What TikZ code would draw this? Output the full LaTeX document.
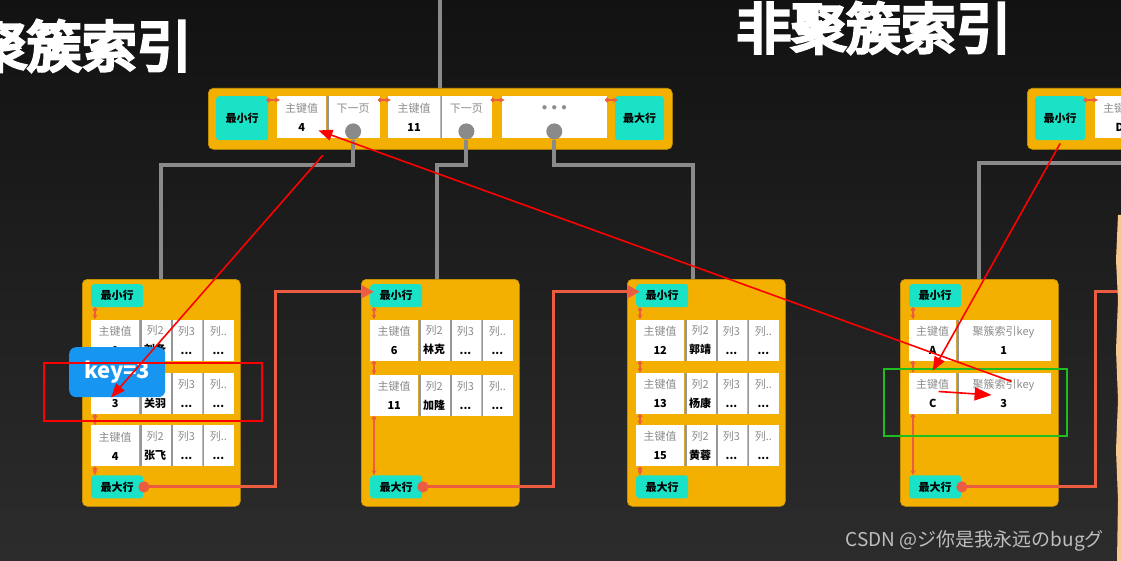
\documentclass[tikz,border=0pt]{standalone}
\usepackage{fontspec}
\setmainfont{Noto Sans CJK SC}
\newfontfamily\titlefont[FakeBold=6]{Noto Sans CJK SC}
\usetikzlibrary{positioning,fit,backgrounds,arrows.meta}

\definecolor{bgtop}{RGB}{18,18,18}
\definecolor{bgbot}{RGB}{44,44,44}
\definecolor{pageorange}{RGB}{244,176,0}
\definecolor{rowteal}{RGB}{26,226,198}
\definecolor{linkred}{RGB}{236,92,64}
\definecolor{treegrey}{RGB}{138,138,138}
\definecolor{hdgrey}{RGB}{140,140,140}
\definecolor{sepgrey}{RGB}{150,150,150}
\definecolor{keyblue}{RGB}{22,150,240}
\definecolor{boxgreen}{RGB}{30,190,30}
\definecolor{markgrey}{RGB}{190,190,190}
\definecolor{skin}{RGB}{245,200,145}

\newcommand{\colhead}[1]{{\color{hdgrey}#1}}

\begin{document}
\begin{tikzpicture}[x=1pt,y=-1pt,
   pagebox/.style={fill=pageorange,draw=pageorange!85!black,line width=0.6pt,rounded corners=5pt,
      minimum width=158pt,minimum height=227pt,inner sep=0pt},
   minrow/.style={fill=rowteal,rounded corners=3pt,minimum width=52pt,minimum height=23pt,inner sep=0pt,
      font=\fontsize{11}{13}\selectfont\bfseries,text=black},
   kcell/.style={fill=white,minimum width=48pt,minimum height=41pt,inner sep=0pt,align=center,
      font=\fontsize{11}{19}\selectfont},
   ccell/.style={kcell,minimum width=31pt,path picture={\draw[sepgrey,line width=4pt]
      (path picture bounding box.north west) -- (path picture bounding box.south west);}},
   linkarrow/.style={draw=linkred,line width=1.3pt,{Circle[length=4.5pt]}-{Stealth[length=5pt,width=5pt]}},
   nextlink/.style={draw=linkred,line width=3pt,{Circle[length=11pt]}-{Triangle[length=12pt,width=12pt]}},
   treeline/.style={draw=treegrey,line width=4pt},
   knob/.style={circle,fill=treegrey,minimum size=16pt,inner sep=0pt},
   notearrow/.style={draw=red,line width=1.6pt,-{Triangle[length=14pt,width=11pt]}},
   redbox/.style={draw=red,line width=1.6pt},
   greenbox/.style={draw=boxgreen,line width=1.6pt},
   keytag/.style={fill=keyblue,rounded corners=7pt,minimum width=96pt,minimum height=50pt,inner sep=0pt,
      text=white,font=\fontsize{22}{22}\selectfont\bfseries},
   titletext/.style={text=white,font=\titlefont\fontsize{55}{60}\selectfont,inner sep=0pt}]

 \useasboundingbox (0,0) rectangle (1121,561);
 \clip (0,0) rectangle (1121,561);
 \fill[top color=bgtop,bottom color=bgbot] (0,0) rectangle (1121,561);

 %titoli
 \node[titletext,anchor=east] (ttl1) at (192,46) {聚簇索引};
 \node[titletext,anchor=west] (ttl2) at (736,28) {非聚簇索引};

 %radice indice cluster
 \node[pagebox,minimum width=464pt,minimum height=61pt,anchor=north west] (root) at (208,88) {};
 \node[minrow,minimum height=44pt,anchor=north west] (rmin) at (216,96) {最小行};
 \node[kcell,minimum width=49pt,minimum height=42pt,anchor=north west] (rk1) at (277,96) {\colhead{主键值}\\\textbf{4}};
 \node[ccell,minimum width=53pt,minimum height=42pt,right=0pt of rk1] (rp1) {\colhead{下一页}\\\phantom{4}};
 \node[kcell,minimum width=52pt,minimum height=42pt,right=8pt of rp1] (rk2) {\colhead{主键值}\\\textbf{11}};
 \node[ccell,minimum width=52pt,minimum height=42pt,right=0pt of rk2] (rp2) {\colhead{下一页}\\\phantom{4}};
 \node[kcell,minimum width=105pt,minimum height=42pt,right=9pt of rp2] (rdots) {\colhead{$\bullet\,\bullet\,\bullet$}\\\phantom{4}};
 \node[minrow,minimum width=49pt,minimum height=44pt,anchor=north west] (rmax) at (615,96) {最大行};
 \node[knob] (c1) at ([yshift=7pt]rp1.south) {};
 \node[knob] (c2) at ([yshift=7pt]rp2.south) {};
 \node[knob] (c3) at ([yshift=7pt]rdots.south) {};

 \draw[linkarrow] ([shift={(-2pt,-4pt)}]rmin.north east) -- ([shift={(3pt,-4pt)}]rk1.north west);
 \draw[linkarrow] ([shift={(-2pt,-4pt)}]rp1.north east) -- ([shift={(3pt,-4pt)}]rk2.north west);
 \draw[linkarrow] ([shift={(-2pt,-4pt)}]rp2.north east) -- ([shift={(3pt,-4pt)}]rdots.north west);
 \draw[linkarrow] ([shift={(-2pt,-4pt)}]rdots.north east) -- ([shift={(3pt,-4pt)}]rmax.north west);

 %radice indice non cluster
 \node[pagebox,minimum width=140pt,minimum height=61pt,anchor=north west] (root2) at (1027,88) {};
 \node[minrow,minimum width=50pt,minimum height=44pt,anchor=north west] (rmin2) at (1035,96) {最小行};
 \node[kcell,minimum width=49pt,minimum height=42pt,anchor=north west] (rk3) at (1095,96) {\colhead{主键值}\\\textbf{D}};
 \draw[linkarrow] ([shift={(-2pt,-4pt)}]rmin2.north east) -- ([shift={(3pt,-4pt)}]rk3.north west);

 %foglia 1
 \node[pagebox,anchor=north west] (leaf1) at (82,279) {};
 \node[minrow,anchor=north west] (l1min) at ([shift={(9pt,-5pt)}]leaf1.north west) {最小行};
 \node[kcell,anchor=north west] (l1r1k) at ([yshift=-12pt]l1min.south west) {\colhead{主键值}\\\textbf{1}};
 \node[ccell,right=0pt of l1r1k] (l1r1a) {\colhead{列2}\\\textbf{刘备}};
 \node[ccell,right=0pt of l1r1a] (l1r1b) {\colhead{列3}\\\textbf{...}};
 \node[ccell,minimum width=32pt,right=0pt of l1r1b] (l1r1c) {\colhead{列..}\\\textbf{...}};
 \node[kcell,below=12pt of l1r1k] (l1r2k) {\colhead{主键值}\\\textbf{3}};
 \node[ccell,right=0pt of l1r2k] (l1r2a) {\colhead{列2}\\\textbf{关羽}};
 \node[ccell,right=0pt of l1r2a] (l1r2b) {\colhead{列3}\\\textbf{...}};
 \node[ccell,minimum width=32pt,right=0pt of l1r2b] (l1r2c) {\colhead{列..}\\\textbf{...}};
 \node[kcell,below=11pt of l1r2k] (l1r3k) {\colhead{主键值}\\\textbf{4}};
 \node[ccell,right=0pt of l1r3k] (l1r3a) {\colhead{列2}\\\textbf{张飞}};
 \node[ccell,right=0pt of l1r3a] (l1r3b) {\colhead{列3}\\\textbf{...}};
 \node[ccell,minimum width=32pt,right=0pt of l1r3b] (l1r3c) {\colhead{列..}\\\textbf{...}};
 \node[minrow,anchor=south west] (l1max) at ([shift={(9pt,8pt)}]leaf1.south west) {最大行};

 %foglia 2
 \node[pagebox,anchor=north west] (leaf2) at (361,279) {};
 \node[minrow,anchor=north west] (l2min) at ([shift={(9pt,-5pt)}]leaf2.north west) {最小行};
 \node[kcell,anchor=north west] (l2r1k) at ([yshift=-12pt]l2min.south west) {\colhead{主键值}\\\textbf{6}};
 \node[ccell,right=0pt of l2r1k] (l2r1a) {\colhead{列2}\\\textbf{林克}};
 \node[ccell,right=0pt of l2r1a] (l2r1b) {\colhead{列3}\\\textbf{...}};
 \node[ccell,minimum width=32pt,right=0pt of l2r1b] (l2r1c) {\colhead{列..}\\\textbf{...}};
 \node[kcell,below=14pt of l2r1k] (l2r2k) {\colhead{主键值}\\\textbf{11}};
 \node[ccell,right=0pt of l2r2k] (l2r2a) {\colhead{列2}\\\textbf{加隆}};
 \node[ccell,right=0pt of l2r2a] (l2r2b) {\colhead{列3}\\\textbf{...}};
 \node[ccell,minimum width=32pt,right=0pt of l2r2b] (l2r2c) {\colhead{列..}\\\textbf{...}};
 \node[minrow,anchor=south west] (l2max) at ([shift={(9pt,8pt)}]leaf2.south west) {最大行};

 %foglia 3
 \node[pagebox,anchor=north west] (leaf3) at (627,279) {};
 \node[minrow,anchor=north west] (l3min) at ([shift={(9pt,-5pt)}]leaf3.north west) {最小行};
 \node[kcell,anchor=north west] (l3r1k) at ([yshift=-12pt]l3min.south west) {\colhead{主键值}\\\textbf{12}};
 \node[ccell,right=0pt of l3r1k] (l3r1a) {\colhead{列2}\\\textbf{郭靖}};
 \node[ccell,right=0pt of l3r1a] (l3r1b) {\colhead{列3}\\\textbf{...}};
 \node[ccell,minimum width=32pt,right=0pt of l3r1b] (l3r1c) {\colhead{列..}\\\textbf{...}};
 \node[kcell,below=12pt of l3r1k] (l3r2k) {\colhead{主键值}\\\textbf{13}};
 \node[ccell,right=0pt of l3r2k] (l3r2a) {\colhead{列2}\\\textbf{杨康}};
 \node[ccell,right=0pt of l3r2a] (l3r2b) {\colhead{列3}\\\textbf{...}};
 \node[ccell,minimum width=32pt,right=0pt of l3r2b] (l3r2c) {\colhead{列..}\\\textbf{...}};
 \node[kcell,below=11pt of l3r2k] (l3r3k) {\colhead{主键值}\\\textbf{15}};
 \node[ccell,right=0pt of l3r3k] (l3r3a) {\colhead{列2}\\\textbf{黄蓉}};
 \node[ccell,right=0pt of l3r3a] (l3r3b) {\colhead{列3}\\\textbf{...}};
 \node[ccell,minimum width=32pt,right=0pt of l3r3b] (l3r3c) {\colhead{列..}\\\textbf{...}};
 \node[minrow,anchor=south west] (l3max) at ([shift={(9pt,8pt)}]leaf3.south west) {最大行};

 %foglia indice non cluster
 \node[pagebox,anchor=north west] (leaf4) at (900,279) {};
 \node[minrow,anchor=north west] (l4min) at ([shift={(9pt,-5pt)}]leaf4.north west) {最小行};
 \node[kcell,minimum width=47pt,anchor=north west] (l4r1k) at ([yshift=-12pt]l4min.south west) {\colhead{主键值}\\\textbf{A}};
 \node[ccell,minimum width=94pt,right=0pt of l4r1k] (l4r1v) {\colhead{聚簇索引key}\\\textbf{1}};
 \node[kcell,minimum width=47pt,below=12pt of l4r1k] (l4r2k) {\colhead{主键值}\\\textbf{C}};
 \node[ccell,minimum width=94pt,right=0pt of l4r2k] (l4r2v) {\colhead{聚簇索引key}\\\textbf{3}};
 \node[minrow,anchor=south west] (l4max) at ([shift={(9pt,8pt)}]leaf4.south west) {最大行};

 %rami dell'albero
 \coordinate (bus) at (0,165);
 \coordinate (bus2) at (1130,163);
 \draw[treeline] (root.north) -- (root.north |- 0,0);
 \draw[treeline] (c1.south) -- (c1 |- bus) -| (leaf1.north);
 \draw[treeline] (c2.south) -- (c2 |- bus) -| ([xshift=-3pt]leaf2.north);
 \draw[treeline] (c3.south) -- (c3 |- bus) -| ([xshift=-13pt]leaf3.north);
 \draw[treeline] (leaf4.north) |- (bus2);

 %link dentro le foglie
 \draw[linkarrow] ([xshift=4pt]l1min.south west) -- ([xshift=4pt]l1r1k.north west);
 \draw[linkarrow] ([xshift=4pt]l1r1k.south west) -- ([xshift=4pt]l1r2k.north west);
 \draw[linkarrow] ([xshift=4pt]l1r2k.south west) -- ([xshift=4pt]l1r3k.north west);
 \draw[linkarrow] ([xshift=4pt]l1r3k.south west) -- ([xshift=4pt]l1max.north west);
 \draw[linkarrow] ([xshift=4pt]l2min.south west) -- ([xshift=4pt]l2r1k.north west);
 \draw[linkarrow] ([xshift=4pt]l2r1k.south west) -- ([xshift=4pt]l2r2k.north west);
 \draw[linkarrow] ([xshift=4pt]l2r2k.south west) -- ([xshift=4pt]l2max.north west);
 \draw[linkarrow] ([xshift=4pt]l3min.south west) -- ([xshift=4pt]l3r1k.north west);
 \draw[linkarrow] ([xshift=4pt]l3r1k.south west) -- ([xshift=4pt]l3r2k.north west);
 \draw[linkarrow] ([xshift=4pt]l3r2k.south west) -- ([xshift=4pt]l3r3k.north west);
 \draw[linkarrow] ([xshift=4pt]l3r3k.south west) -- ([xshift=4pt]l3max.north west);
 \draw[linkarrow] ([xshift=4pt]l4min.south west) -- ([xshift=4pt]l4r1k.north west);
 \draw[linkarrow] ([xshift=4pt]l4r1k.south west) -- ([xshift=4pt]l4r2k.north west);
 \draw[linkarrow] ([xshift=4pt]l4r2k.south west) -- ([xshift=4pt]l4max.north west);

 %link tra foglie
 \coordinate (offright) at (1130,291);
 \draw[nextlink] ([xshift=-5pt]l1max.east) -- ++(137pt,0pt) |- ([shift={(4pt,4pt)}]l2min.west);
 \draw[nextlink] ([xshift=-5pt]l2max.east) -- ++(136pt,0pt) |- ([shift={(4pt,4pt)}]l3min.west);
 \draw[nextlink] ([xshift=-5pt]l4max.east) -- ++(139pt,0pt) |- (offright);

 %annotazioni
 \node[keytag,anchor=north west] (key) at (69,347) {key=3};
 \draw[redbox] (44,363) rectangle (262,421);
 \draw[greenbox] (884,369) rectangle (1067,436);
 \draw[notearrow] ([shift={(21pt,-17pt)}]rk1.south) -- ([shift={(-4pt,-4pt)}]l1r2k.center);
 \draw[notearrow] ([shift={(8pt,12pt)}]l4r2v.center) -- ([shift={(-8pt,8pt)}]rk1.south east);
 \draw[notearrow] ([yshift=-3pt]rmin2.south) -- ([yshift=2pt]l4r2k.north);
 \draw[notearrow,-{Triangle[length=17pt,width=13pt]}] ([shift={(6pt,2pt)}]l4r2k.center) -- ([shift={(-12pt,-1.5pt)}]l4r2v.center);

 \fill[skin] (1118,215) -- (1116,260) -- (1118,300) -- (1116,350) -- (1118,400) -- (1116,450)
    -- (1118,500) -- (1117,561) -- (1125,561) -- (1125,215) -- cycle;
 \node[anchor=east,text=markgrey,font=\fontsize{19}{19}\selectfont,inner sep=0pt] (mark) at (1104,541) {CSDN @ジ你是我永远のbugグ};

\end{tikzpicture}
\end{document}
